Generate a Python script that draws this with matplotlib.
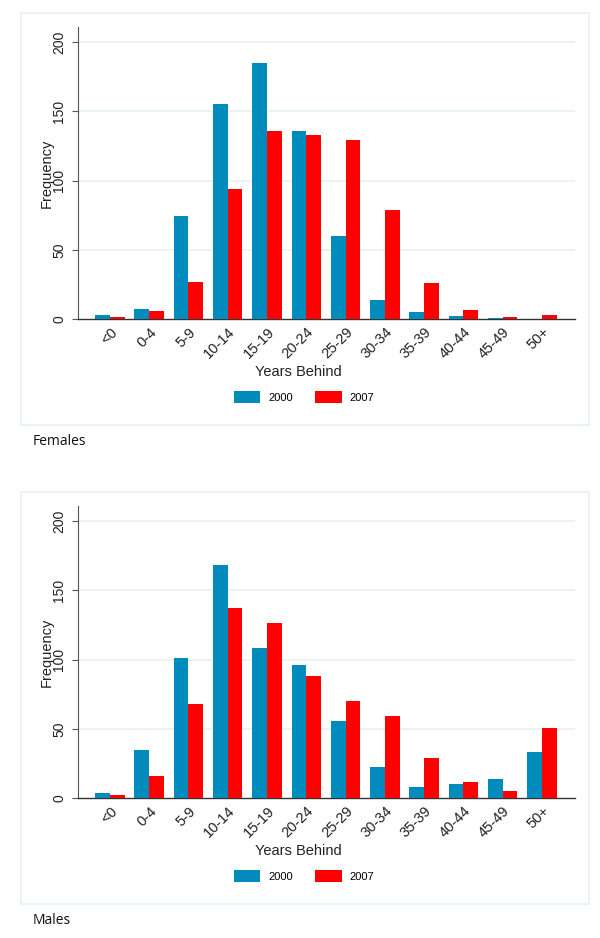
import matplotlib

matplotlib.use("Agg")
import matplotlib.pyplot as plt
import numpy as np
from matplotlib.patches import Rectangle, Patch

plt.rcParams["font.family"] = ["Liberation Sans", "DejaVu Sans"]

BLUE = "#008BBD"
RED = "#FF0000"
GRID = "#E8F1F2"
INK = "#222222"

categories = ["<0", "0-4", "5-9", "10-14", "15-19", "20-24", "25-29",
              "30-34", "35-39", "40-44", "45-49", "50+"]
years = ["2000", "2007"]

females_2000 = [3, 7.5, 74.5, 155, 185, 135.5, 60, 14, 5, 2.5, 1, 0]
females_2007 = [1.5, 6, 27, 94, 136, 132.5, 129.5, 79, 26.5, 7, 1.5, 3]
males_2000 = [4, 34.5, 101, 168, 108.5, 96, 55.5, 22.5, 8, 10.5, 14, 33.5]
males_2007 = [2.5, 16, 68, 137.5, 126.5, 88, 70.5, 59.5, 29, 12, 5.5, 51]

W, H = 600, 938


def fx(px):
    return px / W


def fy(py):
    return (H - py) / H


def panel(fig, top, s2000, s2007, caption):
    # top = pixel y of the outer frame's top edge
    fig.add_artist(Rectangle((fx(21), fy(top + 412)), fx(568), 412 / H,
                             transform=fig.transFigure, fill=False,
                             edgecolor=GRID, linewidth=1.2))
    ax_top = top + 14.3
    ax_bot = top + 306.3
    ax = fig.add_axes([fx(77.7), fy(ax_bot), fx(497.3), (ax_bot - ax_top) / H])
    x = np.arange(len(categories))
    bw = 0.375
    ax.bar(x - bw / 2, s2000, bw, color=BLUE, zorder=3)
    ax.bar(x + bw / 2, s2007, bw, color=RED, zorder=3)
    ax.set_xlim(-0.82, 11.84)
    ax.set_ylim(0, 210.5)
    ax.set_yticks([0, 50, 100, 150, 200])
    ax.set_yticklabels(["0", "50", "100", "150", "200"], rotation=90,
                       va="center", fontsize=10, color=INK)
    ax.set_xticks(x)
    ax.set_xticklabels(categories, rotation=45, ha="right", va="top",
                       rotation_mode="anchor", fontsize=10.5, color=INK)
    ax.tick_params(axis="x", length=0, pad=4)
    ax.tick_params(axis="y", length=4.3, width=0.8, color="#555555", pad=4)
    for y in [50, 100, 150, 200]:
        ax.axhline(y, color=GRID, lw=1.2, zorder=1)
    for side in ("top", "right"):
        ax.spines[side].set_visible(False)
    ax.spines["left"].set_color("#555555")
    ax.spines["left"].set_linewidth(0.8)
    ax.spines["bottom"].set_color("#333333")
    ax.spines["bottom"].set_linewidth(1.0)

    fig.text(fx(46.5), fy((ax_top + ax_bot) / 2), "Frequency", rotation=90,
             ha="center", va="center", fontsize=10.5, color=INK)
    fig.text(fx(298), fy(top + 359), "Years Behind", ha="center",
             va="center", fontsize=10.5, color=INK)
    handles = [Patch(facecolor=BLUE), Patch(facecolor=RED)]
    fig.legend(handles, years, loc="center", ncol=2,
               bbox_to_anchor=(fx(304), fy(top + 384)), frameon=False,
               fontsize=8, handlelength=2.4, handleheight=1.26,
               handletextpad=0.7, columnspacing=2.0)
    fig.text(fx(33), fy(top + 428), caption, ha="left", va="center",
             fontsize=10, family=["Open Sans", "DejaVu Sans"], color="#111111")


fig = plt.figure(figsize=(6, 9.38), dpi=100)
panel(fig, 13, females_2000, females_2007, "Females")
panel(fig, 492, males_2000, males_2007, "Males")

fig.savefig("out.png", dpi=100, facecolor="white")
